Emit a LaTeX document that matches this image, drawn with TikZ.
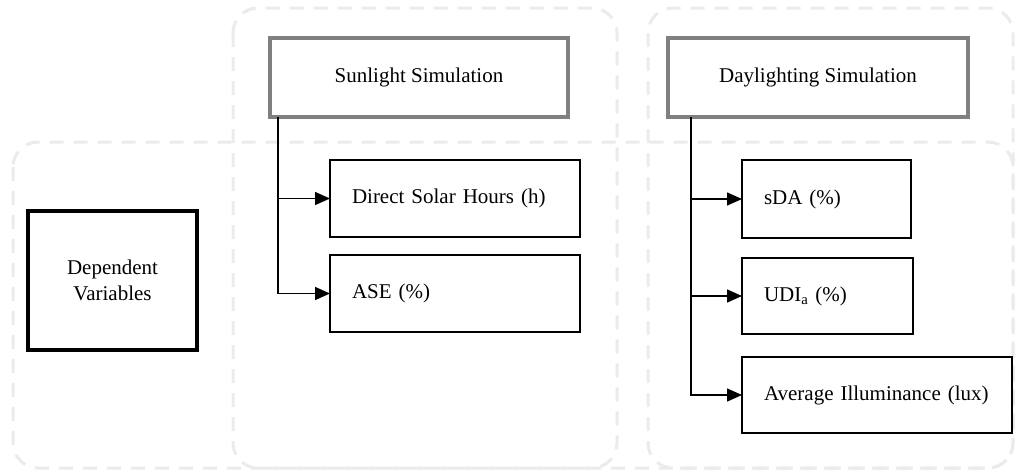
\documentclass[tikz,border=0pt]{standalone}
\usepackage{fontspec}
\setmainfont{Liberation Serif}
\usetikzlibrary{arrows.meta}
\begin{document}
\begin{tikzpicture}[x=1pt,y=-1pt,
  container/.style={draw=black!8,line width=3pt,dash pattern=on 14pt off 10pt,rounded corners=25pt},
  headbox/.style={draw=black!50,line width=3.5pt,fill=white,outer sep=0pt,inner sep=0pt,font=\fontsize{21}{25}\selectfont},
  leafbox/.style={draw=black,line width=2pt,fill=white,outer sep=0pt,inner ysep=0pt,inner xsep=22pt,align=left,font=\fontsize{21}{25}\selectfont},
  depbox/.style={draw=black,line width=4pt,fill=white,outer sep=0pt,inner sep=0pt,align=center,font=\fontsize{21}{26}\selectfont},
  conn/.style={line width=1.5pt,-{Triangle[length=15pt,width=13pt]}}]
\useasboundingbox (0,0) rectangle (1018,472);
\draw[container] (13,142) rectangle (1013,468);
\draw[container] (233,8) rectangle (617,468);
\draw[container] (648,8) rectangle (1013,468);

\node[depbox,minimum width=169pt,minimum height=139pt] (dep) at (112.5,280.5) {Dependent\\Variables};

\node[headbox,minimum width=298pt,minimum height=79pt] (sun) at (419,77.5) {Sunlight Simulation};
\node[headbox,minimum width=300pt,minimum height=79pt] (day) at (818,77.5) {Daylighting Simulation};

\node[leafbox,text width=206pt,minimum height=77pt] (dsh) at (455,198.5) {Direct Solar Hours (h)};
\node[leafbox,text width=206pt,minimum height=77pt] (ase) at (455,293.5) {ASE (\%)};

\node[leafbox,text width=125pt,minimum height=78pt] (sda) at (826.5,199) {sDA (\%)};
\node[leafbox,text width=127pt,minimum height=76pt] (udi) at (827.5,296) {UDI\textsubscript{a} (\%)};
\node[leafbox,text width=226pt,minimum height=76pt] (avg) at (877,395) {Average Illuminance (lux)};

\draw[line width=1.5pt] ([xshift=8pt]sun.south west) -- ([xshift=8pt]sun.south west |- ase.west);
\draw[conn] ([xshift=8pt]sun.south west) |- (dsh.west);
\draw[conn] ([xshift=8pt]sun.south west) |- (ase.west);

\draw[line width=1.5pt] ([xshift=23pt]day.south west) -- ([xshift=23pt]day.south west |- avg.west);
\draw[conn] ([xshift=23pt]day.south west) |- (sda.west);
\draw[conn] ([xshift=23pt]day.south west) |- (udi.west);
\draw[conn] ([xshift=23pt]day.south west) |- (avg.west);
\end{tikzpicture}
\end{document}
